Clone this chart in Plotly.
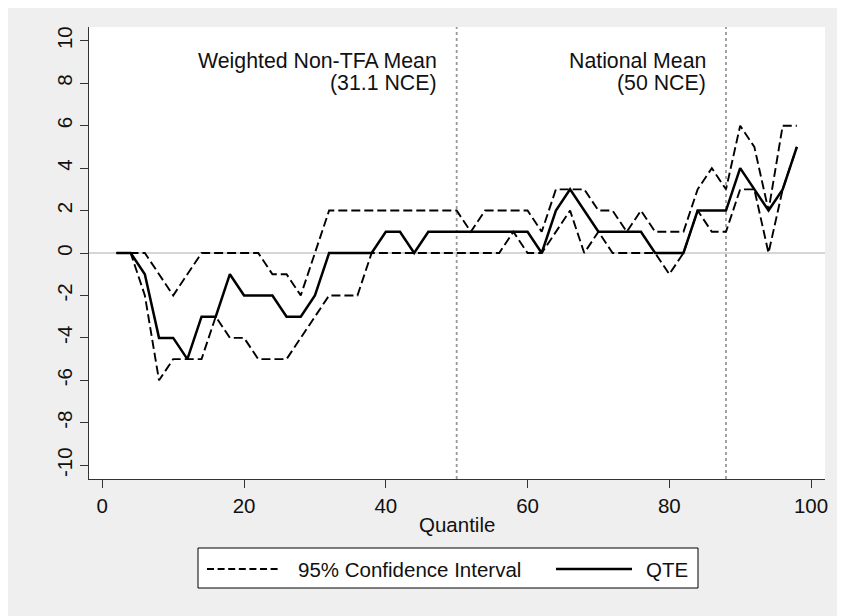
import plotly.graph_objects as go

# ---- data ----
quantiles = list(range(2, 100, 2))
qte = [0, 0, -1, -4, -4, -5, -3, -3, -1, -2,
       -2, -2, -3, -3, -2, 0, 0, 0, 0, 1,
       1, 0, 1, 1, 1, 1, 1, 1, 1, 1,
       0, 2, 3, 2, 1, 1, 1, 1, 0, 0,
       0, 2, 2, 2, 4, 3, 2, 3, 5]
ci_upper = [0, 0, 0, -1, -2, -1, 0, 0, 0, 0,
            0, -1, -1, -2, 0, 2, 2, 2, 2, 2,
            2, 2, 2, 2, 2, 1, 2, 2, 2, 2,
            1, 3, 3, 3, 2, 2, 1, 2, 1, 1,
            1, 3, 4, 3, 6, 5, 2, 6, 6]
ci_lower = [0, 0, -2, -6, -5, -5, -5, -3, -4, -4,
            -5, -5, -5, -4, -3, -2, -2, -2, 0, 0,
            0, 0, 0, 0, 0, 0, 0, 0, 1, 0,
            0, 1, 2, 0, 1, 0, 0, 0, 0, -1,
            0, 2, 1, 1, 3, 3, 0, 3, 5]
ref_lines = [50, 88]
ref_labels = [("Weighted Non-TFA Mean", "(31.1 NCE)"), ("National Mean", "(50 NCE)")]
x_ticks = [0, 20, 40, 60, 80, 100]
y_ticks = list(range(-10, 11, 2))
y_ticklabels = [str(v) for v in y_ticks]  # plain hyphen minus, as in the reference
legend_labels = ["95% Confidence Interval", "QTE"]

FONT = "Liberation Sans, Arial, sans-serif"
BG = "#efefef"
fs = 20.5

W, H = 845, 616
OFF = 8  # page body margin offset
# plot-area edges in screenshot pixels
L, R, T, B = 89, 825, 27, 479

fig = go.Figure()

dash_style = dict(color="black", width=1.9, dash="9px,4px")
fig.add_trace(go.Scatter(x=quantiles, y=ci_upper, mode="lines", line=dash_style,
                         name=legend_labels[0], showlegend=False))
fig.add_trace(go.Scatter(x=quantiles, y=ci_lower, mode="lines", line=dash_style,
                         name=legend_labels[0], showlegend=False))
fig.add_trace(go.Scatter(x=quantiles, y=qte, mode="lines",
                         line=dict(color="black", width=2.5),
                         name=legend_labels[1], showlegend=False))

# zero line
fig.add_hline(y=0, line=dict(color="#c8c8c8", width=1.6), layer="below")
# reference vertical lines
for xv in ref_lines:
    fig.add_vline(x=xv, line=dict(color="#999999", width=1.8, dash="3px,3px"), layer="below")

# reference labels
for xv, (l1, l2) in zip(ref_lines, ref_labels):
    fig.add_annotation(x=xv, y=9.05, xref="x", yref="y", text=l1, showarrow=False,
                       xanchor="right", yanchor="middle", xshift=-18,
                       font=dict(family=FONT, size=21.3, color="#111"))
    fig.add_annotation(x=xv, y=8.0, xref="x", yref="y", text=l2, showarrow=False,
                       xanchor="right", yanchor="middle", xshift=-18,
                       font=dict(family=FONT, size=21.3, color="#111"))

def px(xp):
    return (xp - L) / (R - L)
def py(yp):
    return (B - yp) / (B - T)

# axis title
fig.add_annotation(x=0.5, y=py(524), xref="paper", yref="paper", text="Quantile",
                   showarrow=False, xanchor="center", yanchor="middle",
                   font=dict(family=FONT, size=fs, color="#111"))

# ---- manual legend box ----
fig.add_shape(type="rect", xref="paper", yref="paper",
              x0=px(198), x1=px(698), y0=py(588), y1=py(548),
              line=dict(color="black", width=1), fillcolor="white", layer="above")
fig.add_shape(type="line", xref="paper", yref="paper",
              x0=px(207), x1=px(281), y0=py(569), y1=py(569),
              line=dict(color="black", width=1.9, dash="7px,3.6px"), layer="above")
fig.add_shape(type="line", xref="paper", yref="paper",
              x0=px(556), x1=px(632), y0=py(569), y1=py(569),
              line=dict(color="black", width=2.5), layer="above")
fig.add_annotation(x=px(296), y=py(569), xref="paper", yref="paper", text=legend_labels[0],
                   showarrow=False, xanchor="left", yanchor="middle",
                   font=dict(family=FONT, size=fs, color="#111"))
fig.add_annotation(x=px(644), y=py(569), xref="paper", yref="paper", text=legend_labels[1],
                   showarrow=False, xanchor="left", yanchor="middle",
                   font=dict(family=FONT, size=fs, color="#111"))

axis_common = dict(showgrid=False, zeroline=False, showline=True, linecolor="#333",
                   linewidth=1, ticks="outside", ticklen=8, tickcolor="#333",
                   tickwidth=1, tickfont=dict(family=FONT, size=fs, color="#111"))

fig.update_layout(
    width=W, height=H,
    margin=dict(l=L - OFF, r=W - (R - OFF), t=T - OFF, b=H - (B - OFF)),
    paper_bgcolor=BG, plot_bgcolor="white",
    showlegend=False,
    xaxis=dict(range=[-1.88, 101.97], tickvals=x_ticks, **axis_common),
    yaxis=dict(range=[-10.65, 10.65], tickvals=y_ticks, ticktext=y_ticklabels,
               tickangle=-90, **axis_common),
    font=dict(family=FONT, size=fs, color="#111"),
)

fig.write_html("out.html")
